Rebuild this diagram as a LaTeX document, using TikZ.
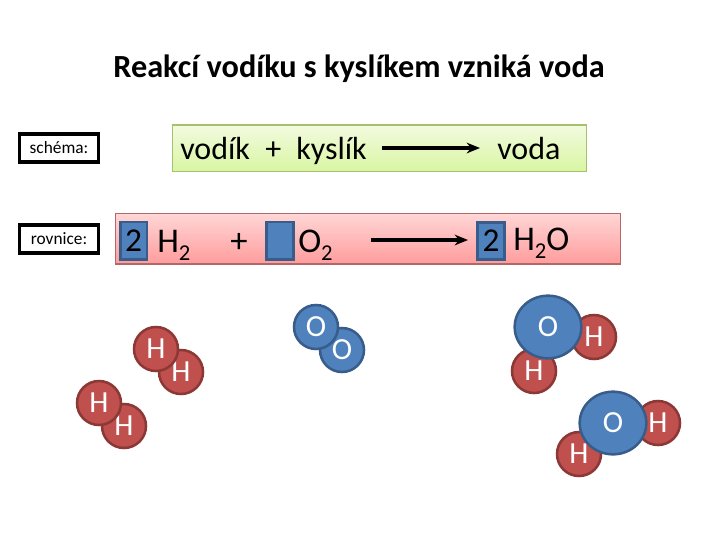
\documentclass[tikz,border=0pt]{standalone}
\usepackage{fontspec}
\setmainfont{Carlito}
\usetikzlibrary{shapes.geometric, arrows.meta}
\newcommand{\velky}{\fontsize{26}{28}\selectfont}
\newcommand{\dolni}[1]{\raisebox{-6.5pt}{\fontsize{17}{19}\selectfont #1}}
\definecolor{cervena}{HTML}{C0504D}
\definecolor{cervenaokraj}{HTML}{8C3836}
\definecolor{modra}{HTML}{4F81BD}
\definecolor{modraokraj}{HTML}{385D8A}
\definecolor{zelenaokraj}{HTML}{A6C070}
\definecolor{zelenahore}{HTML}{F3FADF}
\definecolor{zelenadole}{HTML}{D8F6A2}
\definecolor{ruzovaokraj}{HTML}{B06868}
\definecolor{ruzovahore}{HTML}{FFD6D6}
\definecolor{ruzovadole}{HTML}{FF9C9C}
\tikzset{
    popisek/.style={draw=black, line width=2.6pt, minimum width=59pt, minimum height=21pt, inner sep=0pt, font=\fontsize{13}{15}\selectfont},
    pole/.style={draw=modraokraj, line width=2pt, fill=modra, minimum width=20pt, minimum height=28pt, inner sep=0pt, font=\fontsize{25}{27}\selectfont},
    vodikH/.style={circle, draw=cervenaokraj, line width=1.9pt, fill=cervena, text=white, minimum size=33pt, inner sep=0pt, font=\fontsize{23}{25}\selectfont},
    kyslikO/.style={circle, draw=modraokraj, line width=1.9pt, fill=modra, text=white, minimum size=33pt, inner sep=0pt, font=\fontsize{23}{25}\selectfont},
    kyslikV/.style={ellipse, draw=modraokraj, line width=1.9pt, fill=modra, text=white, minimum width=50pt, minimum height=47pt, inner sep=0pt, font=\fontsize{23}{25}\selectfont},
    text1/.style={inner sep=0pt, anchor=base west, font=\fontsize{24}{26}\selectfont},
    text2/.style={inner sep=0pt, anchor=base west, font=\velky},
    sipka/.style={-{Stealth[length=10pt, width=8pt]}, line width=2.4pt}
}
\begin{document}
\begin{tikzpicture}[x=0.75pt, y=-0.75pt]
    \useasboundingbox (0,0) rectangle (720,540);

    % nadpis
    \node[inner sep=0pt, font=\bfseries\fontsize{24.2}{26}\selectfont] (nadpis) at (359,69) {Reakcí vodíku s kyslíkem vzniká voda};

    % schéma
    \node[popisek] (schema) at (59,148) {schéma:};
    \draw[draw=zelenaokraj, top color=zelenahore, bottom color=zelenadole, line width=0.8pt] (172.5,125) rectangle (586.5,171.5);
    \node[text1] (slovo1) at (180,159) {vodík};
    \node[text1] (plus1) at (265,159) {+};
    \node[text1] (slovo2) at (296,159) {kyslík};
    \node[text1] (voda) at (497,159) {voda};
    \coordinate (s1) at (382,148);
    \coordinate (s2) at (480,148);
    \draw[sipka] (s1) -- (s2);

    % rovnice
    \node[popisek] (rovnice) at (59,239) {rovnice:};
    \draw[draw=ruzovaokraj, top color=ruzovahore, bottom color=ruzovadole, line width=0.8pt] (115.5,213.5) rectangle (620.5,264);
    \node[pole] (pole1) at (133.5,240.5) {2};
    \node[pole] (pole2) at (280,240.5) {};
    \node[pole] (pole3) at (491,241) {2};
    \node[text2] (h2) at (157,252) {H\dolni{2}};
    \node[text2] (plus2) at (230,252) {+};
    \node[text2] (o2) at (298,252) {O\dolni{2}};
    \node[text2] (h2o) at (513,250) {H\dolni{2}O};
    \coordinate (r1) at (371,240);
    \coordinate (r2) at (468,240);
    \draw[sipka] (r1) -- (r2);

    % molekuly vodíku
    \node[vodikH] (h1b) at (181,372) {H};
    \node[vodikH] (h1a) at (156,349) {H};
    \node[vodikH] (h2b) at (124,426) {H};
    \node[vodikH] (h2a) at (99,403) {H};

    % molekula kyslíku
    \node[kyslikO] (o1b) at (342,350) {O};
    \node[kyslikO] (o1a) at (316,327) {O};

    % molekuly vody
    \node[vodikH] (v1a) at (594,337) {H};
    \node[vodikH] (v1b) at (534,371) {H};
    \node[kyslikV] (v1o) at (548,327) {O};
    \node[vodikH] (v2a) at (658,423) {H};
    \node[vodikH] (v2b) at (579,454) {H};
    \node[kyslikV] (v2o) at (613,423) {O};
\end{tikzpicture}
\end{document}
